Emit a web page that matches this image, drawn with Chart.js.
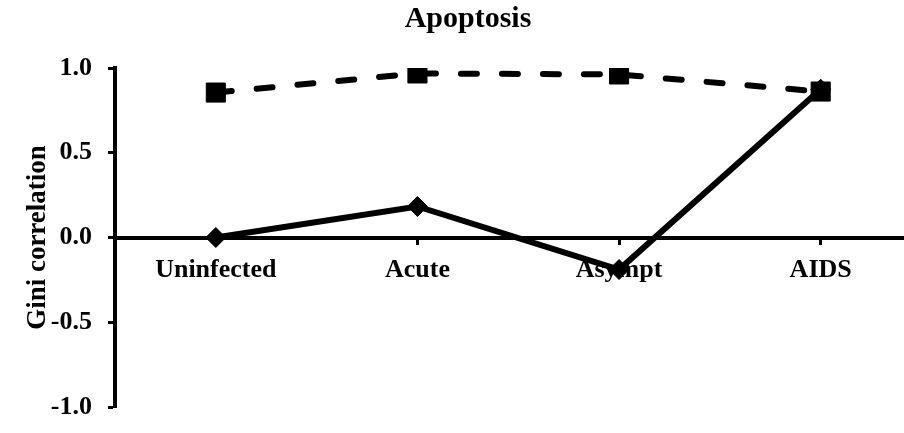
<!DOCTYPE html>
<html>
<head>
<meta charset="utf-8">
<script src="https://cdn.jsdelivr.net/npm/chart.js@4/dist/chart.umd.min.js"></script>
<style>
  html, body { margin: 0; padding: 0; background: #fff; overflow: hidden; }
  #giniChart { width: 936px; height: 433px; }
</style>
</head>
<body>
<canvas id="giniChart" width="936" height="433"></canvas>
<script>
// values
const stages = ["Uninfected", "Acute", "Asympt", "AIDS"];
const dashedSeries = [0.855, 0.968, 0.962, 0.861];   // squares
const solidSeries = [0.0, 0.183, -0.189, 0.875];     // diamonds
const yTickValues = [-1.0, -0.5, 0.0, 0.5, 1.0];

const serif = "'Liberation Serif', 'Times New Roman', serif";

new Chart(document.getElementById("giniChart"), {
  type: "line",
  data: {
    labels: stages,
    datasets: [
      {
        data: dashedSeries,
        borderColor: "#000",
        backgroundColor: "#000",
        borderWidth: 6,
        borderDash: [16, 25],
        borderCapStyle: "round",
        pointStyle: "rect",
        pointRadius: 13.5,
        pointBorderWidth: 1,
        tension: 0
      },
      {
        data: solidSeries,
        borderColor: "#000",
        backgroundColor: "#000",
        borderWidth: 6,
        pointStyle: "rectRot",
        pointRadius: 10,
        pointBorderWidth: 1,
        tension: 0
      }
    ]
  },
  options: {
    responsive: false,
    animation: false,
    layout: { padding: { left: 7, right: 7, top: 0, bottom: 26 } },
    plugins: {
      legend: { display: false },
      tooltip: { enabled: false },
      title: {
        display: true,
        text: "Apoptosis",
        color: "#000",
        font: { family: serif, size: 30, weight: "bold" },
        padding: { top: 1, bottom: 31 }
      }
    },
    scales: {
      x: {
        position: { y: 0 },
        offset: true,
        afterFit(scale) { scale.height = 0; },
        grid: {
          offset: false,
          drawOnChartArea: false,
          drawTicks: true,
          tickLength: 5,
          tickWidth: 3,
          tickColor: "#000"
        },
        border: { color: "#000", width: 4 },
        ticks: {
          color: "#000",
          padding: 12,
          maxRotation: 0,
          font: { family: serif, size: 26, weight: "bold" }
        }
      },
      y: {
        min: -1,
        max: 1,
        afterBuildTicks(scale) { scale.ticks = yTickValues.map(v => ({ value: v })); },
        afterFit(scale) {
          scale.width = 108;
          // labels fit in the margins already, no extra room needed
          scale.paddingTop = 0;
          scale.paddingBottom = 0;
        },
        grid: {
          drawOnChartArea: false,
          drawTicks: true,
          tickLength: 7,
          tickWidth: 3,
          tickColor: "#000"
        },
        border: { color: "#000", width: 4 },
        ticks: {
          color: "#000",
          padding: 16,
          font: { family: serif, size: 26, weight: "bold" },
          callback: v => Number(v).toFixed(1)
        },
        title: {
          display: true,
          text: "Gini correlation",
          color: "#000",
          padding: { top: 15, bottom: 0 },
          font: { family: serif, size: 27, weight: "bold" }
        }
      }
    }
  }
});
</script>
</body>
</html>
